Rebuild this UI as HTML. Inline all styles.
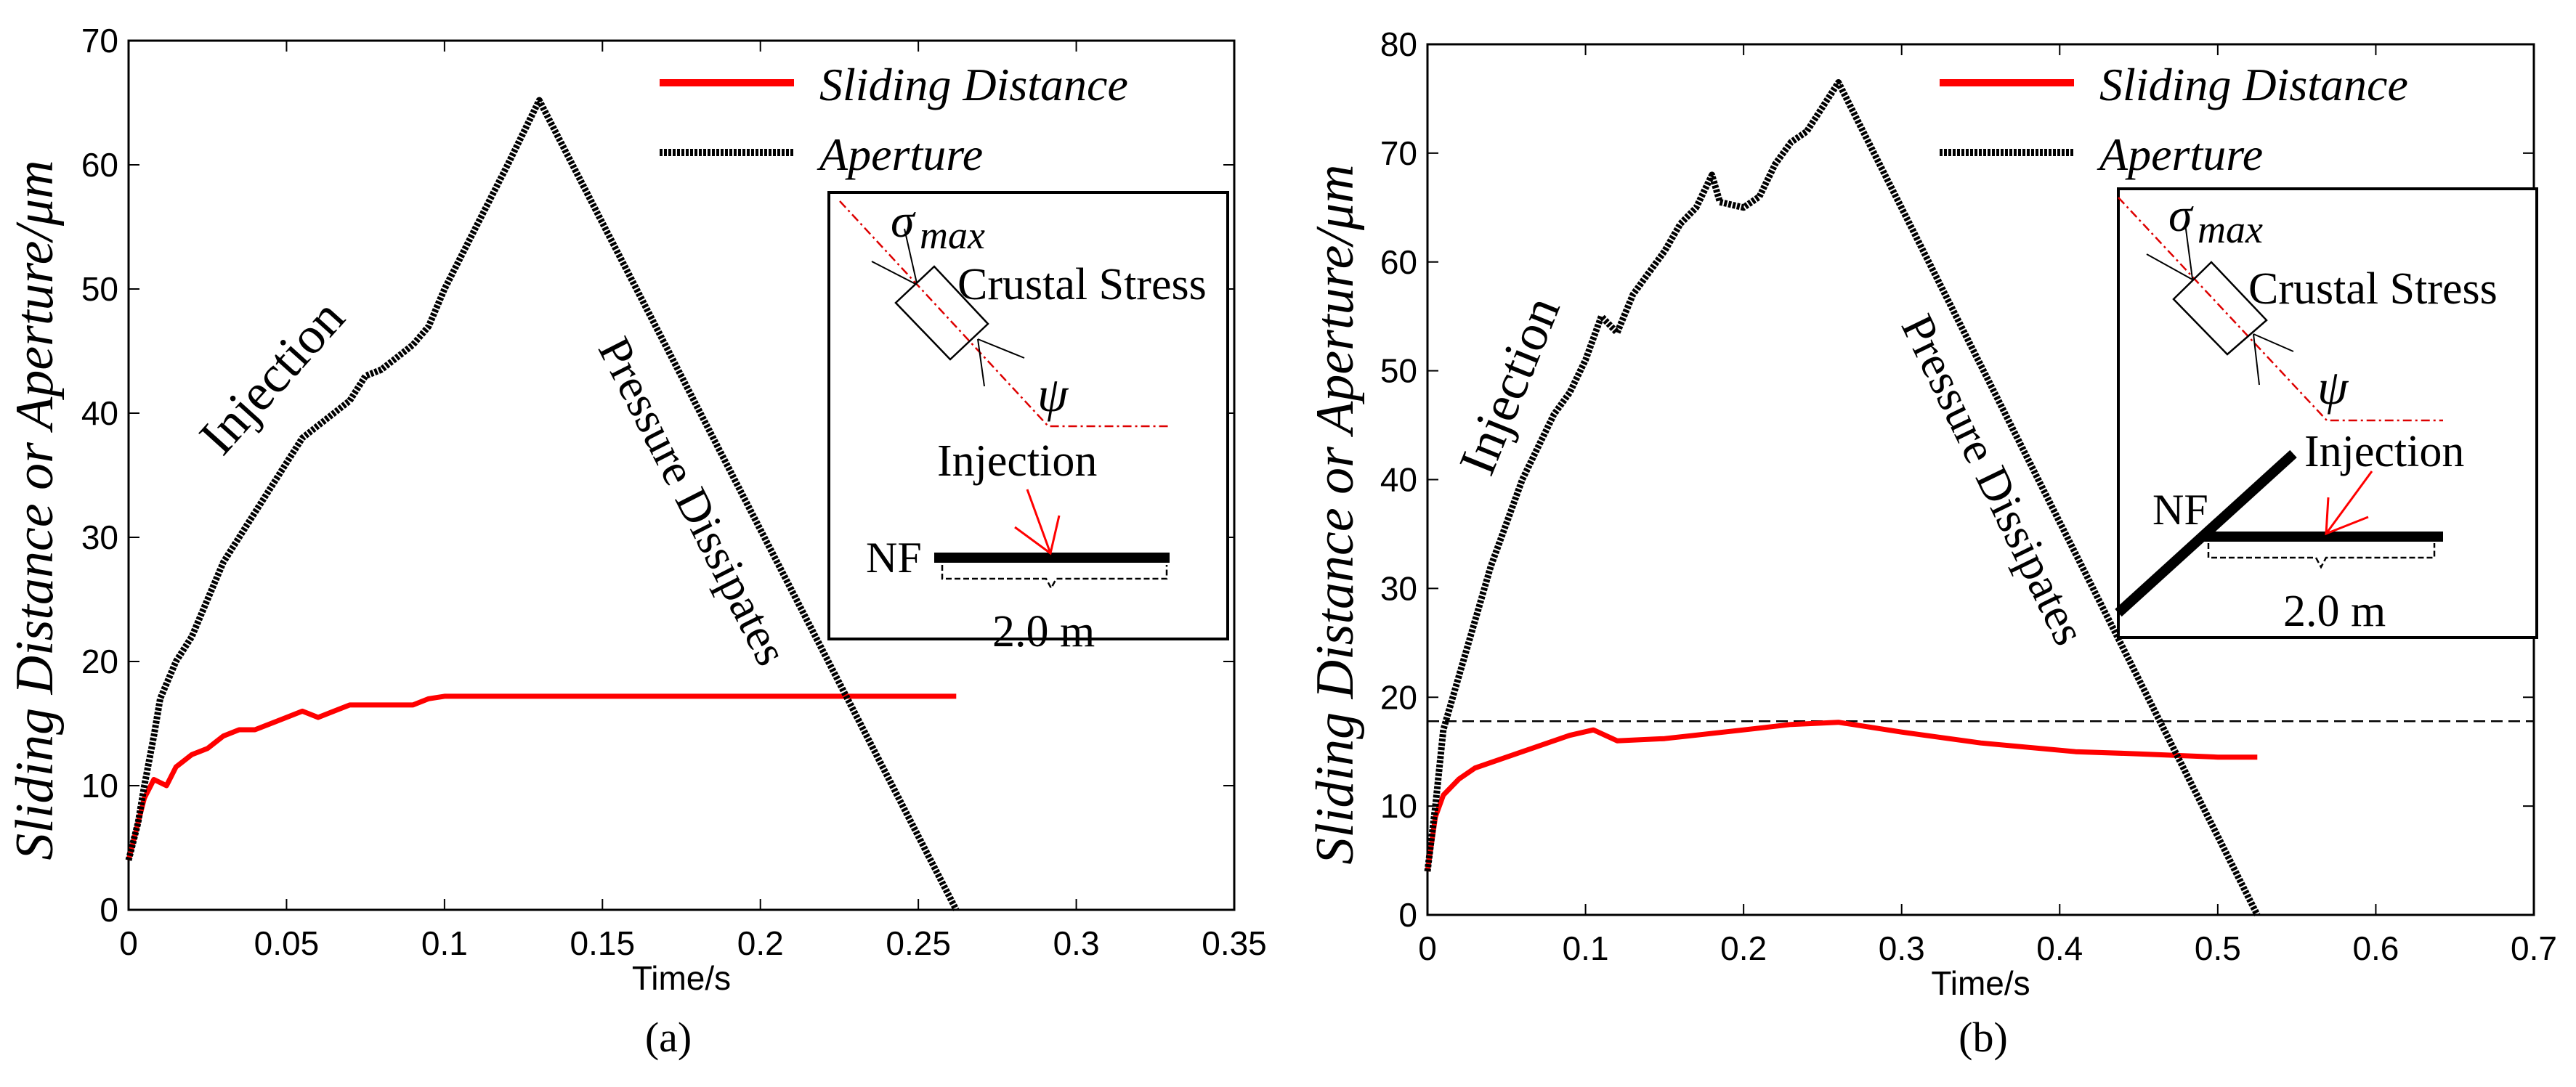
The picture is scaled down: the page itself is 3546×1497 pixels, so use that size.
<!DOCTYPE html>
<html><head><meta charset="utf-8"><style>
html,body{margin:0;padding:0;background:#fff}
svg{display:block}
.tk{font-family:"Liberation Sans",sans-serif;font-size:46px;fill:#000}
.sf{font-family:"Liberation Serif",serif;fill:#000}
</style></head><body>
<svg id="fig" width="3546" height="1497" viewBox="0 0 3546 1497" xmlns="http://www.w3.org/2000/svg">
<g id="pa"></g>
<g id="pb"></g>
</svg>
<script>
// Panel (a) data
const aApT=[0,0.003,0.005,0.008,0.01,0.015,0.02,0.025,0.03,0.035,0.04,0.045,0.05,0.055,0.06,0.065,0.07,0.075,0.08,0.085,0.09,0.095,0.1,0.11,0.12,0.13,0.262];
const aApV=[4,7,10,14,17,20,22,25,28,30,32,34,36,38,39,40,41,43,43.5,44.5,45.5,47,50,55,60,65.2,0];
const aSlT=[0,0.003,0.005,0.008,0.012,0.015,0.02,0.025,0.03,0.035,0.04,0.045,0.05,0.055,0.06,0.065,0.07,0.08,0.09,0.095,0.1,0.262];
const aSlV=[4,7,9,10.5,10,11.5,12.5,13,14,14.5,14.5,15,15.5,16,15.5,16,16.5,16.5,16.5,17,17.2,17.2];
const aXT=[0,0.05,0.1,0.15,0.2,0.25,0.3,0.35];
const aYT=[0,10,20,30,40,50,60,70];
// Panel (b) data
const bApT=[0,0.005,0.01,0.02,0.03,0.04,0.05,0.06,0.07,0.08,0.09,0.1,0.11,0.12,0.13,0.14,0.15,0.16,0.17,0.18,0.185,0.2,0.21,0.22,0.23,0.24,0.26,0.525];
const bApV=[4,10,17,22,27,32,36,40,43,46,48,51,55,53.5,57,59,61,63.5,65,68,65.5,65,66,69,71,72,76.5,0];
const bSlT=[0,0.005,0.01,0.02,0.03,0.05,0.07,0.09,0.105,0.12,0.15,0.2,0.23,0.26,0.3,0.35,0.41,0.45,0.5,0.525];
const bSlV=[4,9,11,12.5,13.5,14.5,15.5,16.5,17,16,16.2,17,17.5,17.7,16.8,15.8,15,14.8,14.5,14.5];
const bRef=[17.8];
const bXT=[0,0.1,0.2,0.3,0.4,0.5,0.6,0.7];
const bYT=[0,10,20,30,40,50,60,70,80];

const NS="http://www.w3.org/2000/svg";
function mk(p,tag,at,txt){const e=document.createElementNS(NS,tag);for(const k in at)e.setAttribute(k,at[k]);if(txt!==undefined)e.textContent=txt;p.appendChild(e);return e;}

function panel(g,o){
  const sx=t=>o.x0+(t-o.xmin)/(o.xmax-o.xmin)*(o.x1-o.x0);
  const sy=v=>o.y1-(v-o.ymin)/(o.ymax-o.ymin)*(o.y1-o.y0);
  const box=mk(g,'rect',{x:o.x0,y:o.y0,width:o.x1-o.x0,height:o.y1-o.y0,fill:'none',stroke:'#000','stroke-width':3});
  
  
  o.xt.forEach(t=>{
    const x=sx(t);
    const l=mk(g,'path',{d:`M${x},${o.y1}v-15M${x},${o.y0}v15`,stroke:'#000','stroke-width':2});
    
    
    const tx=mk(g,'text',{x:x,y:o.y1+62,'text-anchor':'middle',class:'tk'},String(t));
    
    
  });
  o.yt.forEach(v=>{
    const y=sy(v);
    const l=mk(g,'path',{d:`M${o.x0},${y}h15M${o.x1},${y}h-15`,stroke:'#000','stroke-width':2});
    
    
    const tx=mk(g,'text',{x:o.x0-14,y:y+16,'text-anchor':'end',class:'tk'},String(v));
    
    
  });
  const xl=mk(g,'text',{x:(o.x0+o.x1)/2,y:o.y1+110,'text-anchor':'middle',class:'tk','font-size':44},'Time/s');
  
  
  const yl=mk(g,'text',{x:0,y:0,'text-anchor':'middle',class:'sf','font-style':'italic','font-size':74,transform:`translate(${o.ylx},${(o.y0+o.y1)/2+48}) rotate(-90)`},'Sliding Distance or Aperture/μm');
  
  
  const cap=mk(g,'text',{x:o.capx,y:1448,'text-anchor':'middle',class:'sf','font-size':58},o.cap);
  
  
  if(o.ref){o.ref.forEach(v=>{
    const r=mk(g,'line',{x1:o.x0,x2:o.x1,y1:sy(v),y2:sy(v),stroke:'#000','stroke-width':2.5,'stroke-dasharray':'16,8'});
    
    
  });}
  const pts=(T,V)=>T.map((t,i)=>sx(t).toFixed(1)+','+sy(V[i]).toFixed(1)).join(' ');
  const sl=mk(g,'polyline',{points:pts(o.slT,o.slV),fill:'none',stroke:'#f00','stroke-width':7,'stroke-linejoin':'round'});
  
  
  const ap=mk(g,'polyline',{points:pts(o.apT,o.apV),fill:'none',stroke:'#000','stroke-width':9,'stroke-dasharray':'4,2','stroke-linejoin':'round'});
  
  
  const lg=mk(g,'g',{});
  
  
  mk(lg,'line',{x1:o.lgx,x2:o.lgx+185,y1:114,y2:114,stroke:'#f00','stroke-width':10});
  mk(lg,'text',{x:o.lgx+220,y:138,class:'sf','font-style':'italic','font-size':64},'Sliding Distance');
  mk(lg,'line',{x1:o.lgx,x2:o.lgx+185,y1:210,y2:210,stroke:'#000','stroke-width':10,'stroke-dasharray':'4,2'});
  mk(lg,'text',{x:o.lgx+220,y:234,class:'sf','font-style':'italic','font-size':64},'Aperture');
  const a1=mk(g,'text',{x:0,y:0,'text-anchor':'middle',class:'sf','font-size':72,transform:`translate(${o.inj[0]},${o.inj[1]}) rotate(${o.inj[2]})`},'Injection');
  
  
  const a2=mk(g,'text',{x:0,y:0,'text-anchor':'middle',class:'sf','font-size':64,transform:`translate(${o.pd[0]},${o.pd[1]}) rotate(${o.pd[2]})`},'Pressure Dissipates');
  
  
}

panel(document.getElementById('pa'),{x0:177,x1:1699,y0:56,y1:1253,xmin:0,xmax:0.35,ymin:0,ymax:70,xt:aXT,yt:aYT,apT:aApT,apV:aApV,slT:aSlT,slV:aSlV,ylx:72,capx:920,cap:'(a)',lgx:908,inj:[392,535,-48],pd:[935,700,63]});
panel(document.getElementById('pb'),{x0:1965,x1:3488,y0:61,y1:1260,xmin:0,xmax:0.7,ymin:0,ymax:80,xt:bXT,yt:bYT,apT:bApT,apV:bApV,slT:bSlT,slV:bSlV,ref:bRef,ylx:1862,capx:2730,cap:'(b)',lgx:2670,inj:[2100,540,-68],pd:[2725,670,64]});

function inset(g,o){
  const b=mk(g,'rect',{x:o.bx,y:o.by,width:o.bw,height:o.bh,fill:'#fff',stroke:'#000','stroke-width':4});
  
  
  mk(g,'polyline',{points:o.red,fill:'none',stroke:'#d00','stroke-width':2.5,'stroke-dasharray':'12,5,3,5'});
  mk(g,'polygon',{points:o.rect,fill:'none',stroke:'#000','stroke-width':2.5});
  o.arrows.forEach(d=>mk(g,'path',{d:d,stroke:'#000','stroke-width':2,fill:'none'}));
  mk(g,'text',{x:o.sig[0],y:o.sig[1],class:'sf','font-style':'italic','font-size':66},'σ');
  mk(g,'text',{x:o.sig[0]+40,y:o.sig[1]+16,class:'sf','font-style':'italic','font-size':54},'max');
  mk(g,'text',{x:o.cs[0],y:o.cs[1],class:'sf','font-size':62},'Crustal Stress');
  mk(g,'text',{x:o.psi[0],y:o.psi[1],class:'sf','font-style':'italic','font-size':68},'ψ');
  mk(g,'text',{x:o.inj[0],y:o.inj[1],class:'sf','font-size':62},'Injection');
  mk(g,'text',{x:o.nf[0],y:o.nf[1],class:'sf','font-size':60},'NF');
  mk(g,'text',{x:o.dm[0],y:o.dm[1],class:'sf','font-size':62},'2.0 m');
  o.bars.forEach(d=>mk(g,'path',{d:d,stroke:'#000','stroke-width':14,fill:'none'}));
  mk(g,'path',{d:o.arrow,stroke:'#f00','stroke-width':3,fill:'none'});
  mk(g,'path',{d:o.brace,stroke:'#000','stroke-width':2.5,fill:'none','stroke-dasharray':'8,4'});
}
inset(document.getElementById('pa'),{bx:1141,by:265,bw:549,bh:615,
  red:'1156,277 1443,587 1610,587',rect:'1233,417 1286,367 1360,446 1308,495',
  arrows:['M1200,360 L1262,392','M1245,315 L1262,390','M1346,467 L1410,493','M1346,467 L1355,532'],
  sig:[1226,326],cs:[1318,412],psi:[1428,566],inj:[1290,655],nf:[1192,788],dm:[1366,890],
  bars:['M1286,768 H1610'],arrow:'M1414,674 L1446,762 M1397,726 L1446,762 L1458,710',
  brace:'M1297,778 V797 H1440 L1447,810 L1454,797 H1606 V778'});
inset(document.getElementById('pb'),{bx:2916,by:260,bw:576,bh:618,
  red:'2916,272 3203,579 3363,579',rect:'2992,412 3044,361 3120,441 3066,488',
  arrows:['M2955,350 L3018,385','M3008,308 L3018,384','M3102,460 L3157,484','M3102,460 L3110,530'],
  sig:[2985,318],cs:[3095,418],psi:[3190,556],inj:[3172,642],nf:[2963,722],dm:[3143,862],
  bars:['M2916,844 L3157,625','M3031,739 H3363'],arrow:'M3265,649 L3202,735 M3205,685 L3202,735 L3260,712',
  brace:'M3040,748 V768 H3188 L3195,781 L3202,768 H3351 V748'});
</script>
</body></html>
